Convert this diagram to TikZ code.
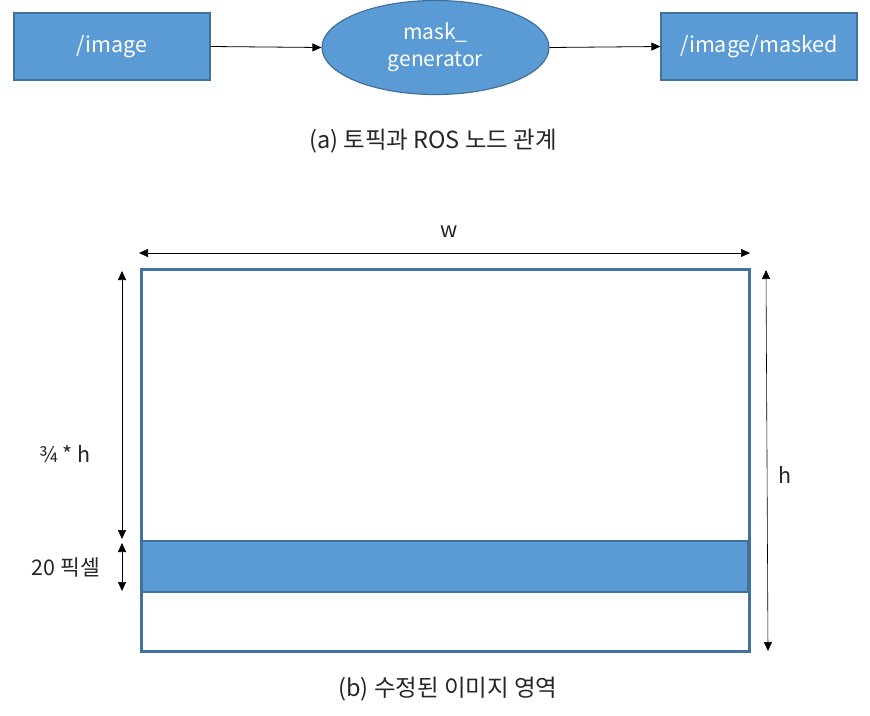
\documentclass[tikz,border=0pt]{standalone}
\usepackage{fontspec}
\setmainfont{Noto Sans CJK KR}
\usetikzlibrary{arrows.meta,shapes.geometric}
\definecolor{boxfill}{HTML}{5B9BD5}
\definecolor{boxline}{HTML}{41719C}
\definecolor{txt}{HTML}{262626}
\begin{document}
\begin{tikzpicture}[x=1pt,y=-1pt,
  topic/.style={draw=boxline,fill=boxfill,line width=1.2pt,minimum width=196pt,minimum height=67pt,text=white,font=\fontsize{21.5}{24}\selectfont,inner sep=0pt},
  nodeell/.style={ellipse,draw=boxline,fill=boxfill,line width=1.2pt,minimum width=227pt,minimum height=94pt,text=white,font=\fontsize{21}{27}\selectfont,align=center,inner sep=0pt},
  conn/.style={-{Triangle[length=9pt,width=8pt]},line width=0.8pt,black},
  dim/.style={{Triangle[length=9pt,width=8pt]}-{Triangle[length=9pt,width=8pt]},line width=0.6pt,black},
  captext/.style={text=txt,font=\fontsize{23.5}{26}\selectfont},
  lbl/.style={text=txt,font=\fontsize{21.5}{24}\selectfont}]
\useasboundingbox (0,0) rectangle (870,715);
\node[topic] (img) at (112,46.5) {/image};
\node[nodeell] (gen) at (435.5,47.5) {mask\_\\generator};
\node[topic] (masked) at (759,46.5) {/image/masked};
\draw[conn] (img.east) -- (gen.west);
\draw[conn] (gen.east) -- (masked.west);
\node[captext] (capa) at (433,141) {(a) 토픽과 ROS 노드 관계};
% image area
\node[draw=boxline,line width=3pt,minimum width=608pt,minimum height=382pt,inner sep=0pt] (frame) at (445,460) {};
\node[draw=boxline,fill=boxfill,line width=1.2pt,minimum width=606pt,minimum height=51pt,inner sep=0pt] (band) at (445,566.5) {};
\coordinate (wl) at (139,253);
\coordinate (wr) at (750,253);
\draw[dim] (wl) -- (wr);
\node[lbl] (wlab) at (449,232) {w};
\coordinate (qt) at (122,271);
\coordinate (qb) at (122,539);
\draw[dim] (qt) -- (qb);
\node[lbl] (qlab) at (65,454) {¾ * h};
\coordinate (pt) at (122,543);
\coordinate (pb) at (122,591);
\draw[dim] (pt) -- (pb);
\node[lbl] (plab) at (66,567) {20 픽셀};
\coordinate (ht) at (766,270);
\coordinate (hb) at (768,651);
\draw[dim] (ht) -- (hb);
\node[lbl] (hlab) at (785,475) {h};
\node[captext] (capb) at (448,689) {(b) 수정된 이미지 영역};
\end{tikzpicture}
\end{document}
